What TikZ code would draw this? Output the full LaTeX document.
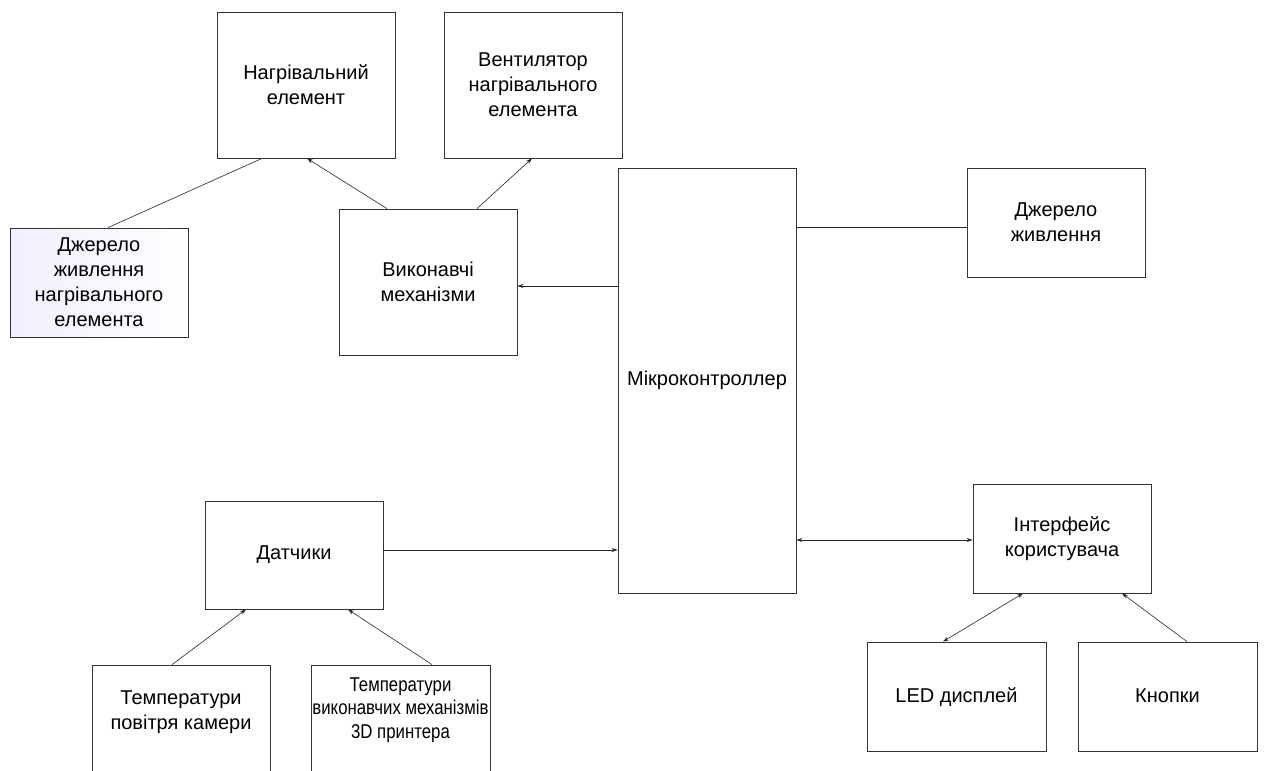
\documentclass[tikz,border=0pt]{standalone}
\usepackage{fontspec}
\setmainfont{Liberation Sans}
\usetikzlibrary{arrows.meta}
\begin{document}
\begin{tikzpicture}[x=1pt,y=-1pt,
  box/.style={draw=black!80,line width=0.8pt,inner sep=0pt,minimum width=178pt,align=center,
    font=\fontsize{20}{25}\selectfont},
  txt/.style={inner sep=0pt,align=center,font=\fontsize{20}{25}\selectfont},
  conn/.style={draw=black!85,line width=0.6pt},
  arr/.style={conn,-{Stealth[length=6pt,width=4pt]}},
  darr/.style={conn,{Stealth[length=6pt,width=4pt]}-{Stealth[length=6pt,width=4pt]}}]
\useasboundingbox (0,0) rectangle (1264,771);
\clip (0,0) rectangle (1264,771);
\node[box,minimum height=146pt] (heat) at (306,85) {Нагрівальний\\елемент};
\node[box,minimum height=146pt] (fan) at (533,85) {Вентилятор\\нагрівального\\елемента};
\node[box,minimum height=109pt,left color=blue!6,right color=white] (heatpsu) at (99,282.5) {Джерело\\живлення\\нагрівального\\елемента};
\node[box,minimum height=146pt] (act) at (428,282) {Виконавчі\\механізми};
\node[box,minimum height=425pt] (mcu) at (707,380.5) {Мікроконтроллер};
\node[box,minimum height=109pt] (psu) at (1056,222.5) {Джерело\\живлення};
\node[box,minimum height=108pt] (sens) at (294,555) {Датчики};
\node[box,minimum height=109pt] (ui) at (1062,538.5) {Інтерфейс\\користувача};
\node[box,minimum height=109pt,minimum width=179pt,text height=15pt,text depth=4pt] (led) at (956.5,696.5) {LED дисплей};
\node[box,minimum height=109pt,minimum width=179pt,text height=15pt,text depth=4pt] (btn) at (1167.5,696.5) {Кнопки};
\node[box,minimum height=150pt] (tair) at (181,740) {};
\node[box,minimum height=150pt,minimum width=179pt] (tact) at (400.5,740) {};
\node[txt] (tairtxt) at (181,712) {Температури\\повітря камери};
\node[txt,font=\fontsize{20}{23.5}\selectfont\addfontfeature{FakeStretch=0.84}] (tacttxt) at (400.5,710) {Температури\\виконавчих механізмів\\3D принтера};

\draw[conn] ([xshift=9pt]heatpsu.north) -- ([xshift=-44pt]heat.south);
\draw[arr] ([xshift=-41pt]act.north) -- ([xshift=1pt]heat.south);
\draw[arr] ([xshift=49pt]act.north) -- ([xshift=-1pt]fan.south);
\draw[arr] ([yshift=94.5pt]mcu.west) -- ([yshift=-4pt]act.east);
\draw[conn] ([yshift=153.5pt]mcu.east) -- ([yshift=-4.5pt]psu.west);
\draw[arr] ([yshift=5pt]sens.east) -- ([yshift=-169.5pt]mcu.west);
\draw[darr] ([yshift=-159.5pt]mcu.east) -- ([yshift=-1.5pt]ui.west);
\draw[darr] ([xshift=-39pt]ui.south) -- ([xshift=-13.5pt]led.north);
\draw[arr] ([xshift=19.5pt]btn.north) -- ([xshift=60pt]ui.south);
\draw[arr] ([xshift=-9pt]tair.north) -- ([xshift=-48pt]sens.south);
\draw[arr] ([xshift=31.5pt]tact.north) -- ([xshift=54pt]sens.south);
\end{tikzpicture}
\end{document}
